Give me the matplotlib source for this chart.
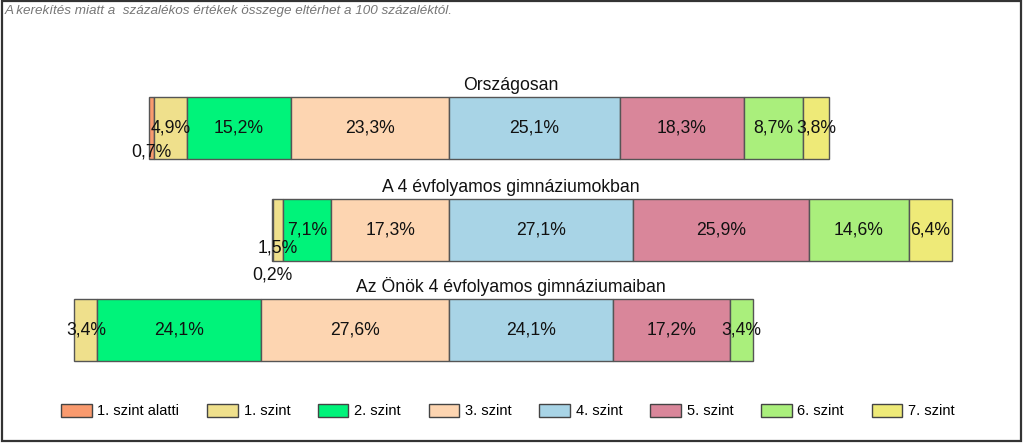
import matplotlib
matplotlib.use('Agg')
import matplotlib.pyplot as plt
from matplotlib.patches import Rectangle, Patch

plt.rcParams['font.family'] = ['Liberation Sans', 'DejaVu Sans']

# data
groups = ["Országosan", "A 4 évfolyamos gimnáziumokban", "Az Önök 4 évfolyamos gimnáziumaiban"]
levels = ["1. szint alatti", "1. szint", "2. szint", "3. szint",
          "4. szint", "5. szint", "6. szint", "7. szint"]
orszagos = [0.7, 4.9, 15.2, 23.3, 25.1, 18.3, 8.7, 3.8]
gimn4 = [0.2, 1.5, 7.1, 17.3, 27.1, 25.9, 14.6, 6.4]
onok = [0.0, 3.4, 24.1, 27.6, 24.1, 17.2, 3.4, 0.0]
note = "A kerekítés miatt a  százalékos értékek összege eltérhet a 100 százaléktól."

colors = ["#F99A6E", "#EFE08C", "#00F37A", "#FDD5B1",
          "#A8D4E6", "#D9869A", "#AAEF7C", "#EEEA78"]

series = [orszagos, gimn4, onok]

W, H = 1024, 443
fig = plt.figure(figsize=(W / 100, H / 100), dpi=100)
ax = fig.add_axes([0, 0, 1, 1])
# axis in percent, 0 = boundary between level 3 and 4
px_per_pct = 6.8
zero_px = 449
ax.set_xlim(-zero_px / px_per_pct, (W - zero_px) / px_per_pct)
ax.set_ylim(H, 0)
ax.axis('off')

bar_centers = [128, 230, 330]
bar_h = 62
title_x = (511 - zero_px) / px_per_pct

# extra offsets (x pct, y px) for labels of tiny segments
label_shift = {(0, 0): (0, 24), (1, 0): (0, 45), (1, 1): (0, 18)}

for gi, vals in enumerate(series):
    yc = bar_centers[gi]
    left = -sum(vals[:4])
    for li, v in enumerate(vals):
        if v > 0:
            ax.barh(yc, v, left=left, height=bar_h, color=colors[li],
                    edgecolor="#555555", linewidth=1)
            dx, dy = label_shift.get((gi, li), (0, 0))
            ax.text(left + v / 2 + dx, yc + dy, f"{v:.1f}%".replace(".", ","),
                    ha='center', va='center', fontsize=12.7, color='#111111')
        left += v
    ax.text(title_x, yc - bar_h / 2 - 12, groups[gi], ha='center', va='center',
            fontsize=12.7, color='#111111')

fig.text(5 / W, 1 - 11 / H, note, ha='left', va='center', fontsize=9.7,
         style='italic', color='#777777')

handles = [Patch(facecolor=c, edgecolor='#444444', linewidth=1) for c in colors]
fig.legend(handles, levels, loc='center', bbox_to_anchor=(0.496, 1 - 411 / H),
           ncol=8, frameon=False, fontsize=10.5, handlelength=2.1, handleheight=1.05,
           handletextpad=0.4, columnspacing=1.9)

fig.patches.append(Rectangle((1.5 / W, 2 / H), 1019 / W, 440 / H, transform=fig.transFigure,
                             fill=False, edgecolor='#333333', linewidth=1.6))

fig.savefig("out.png", dpi=100)
